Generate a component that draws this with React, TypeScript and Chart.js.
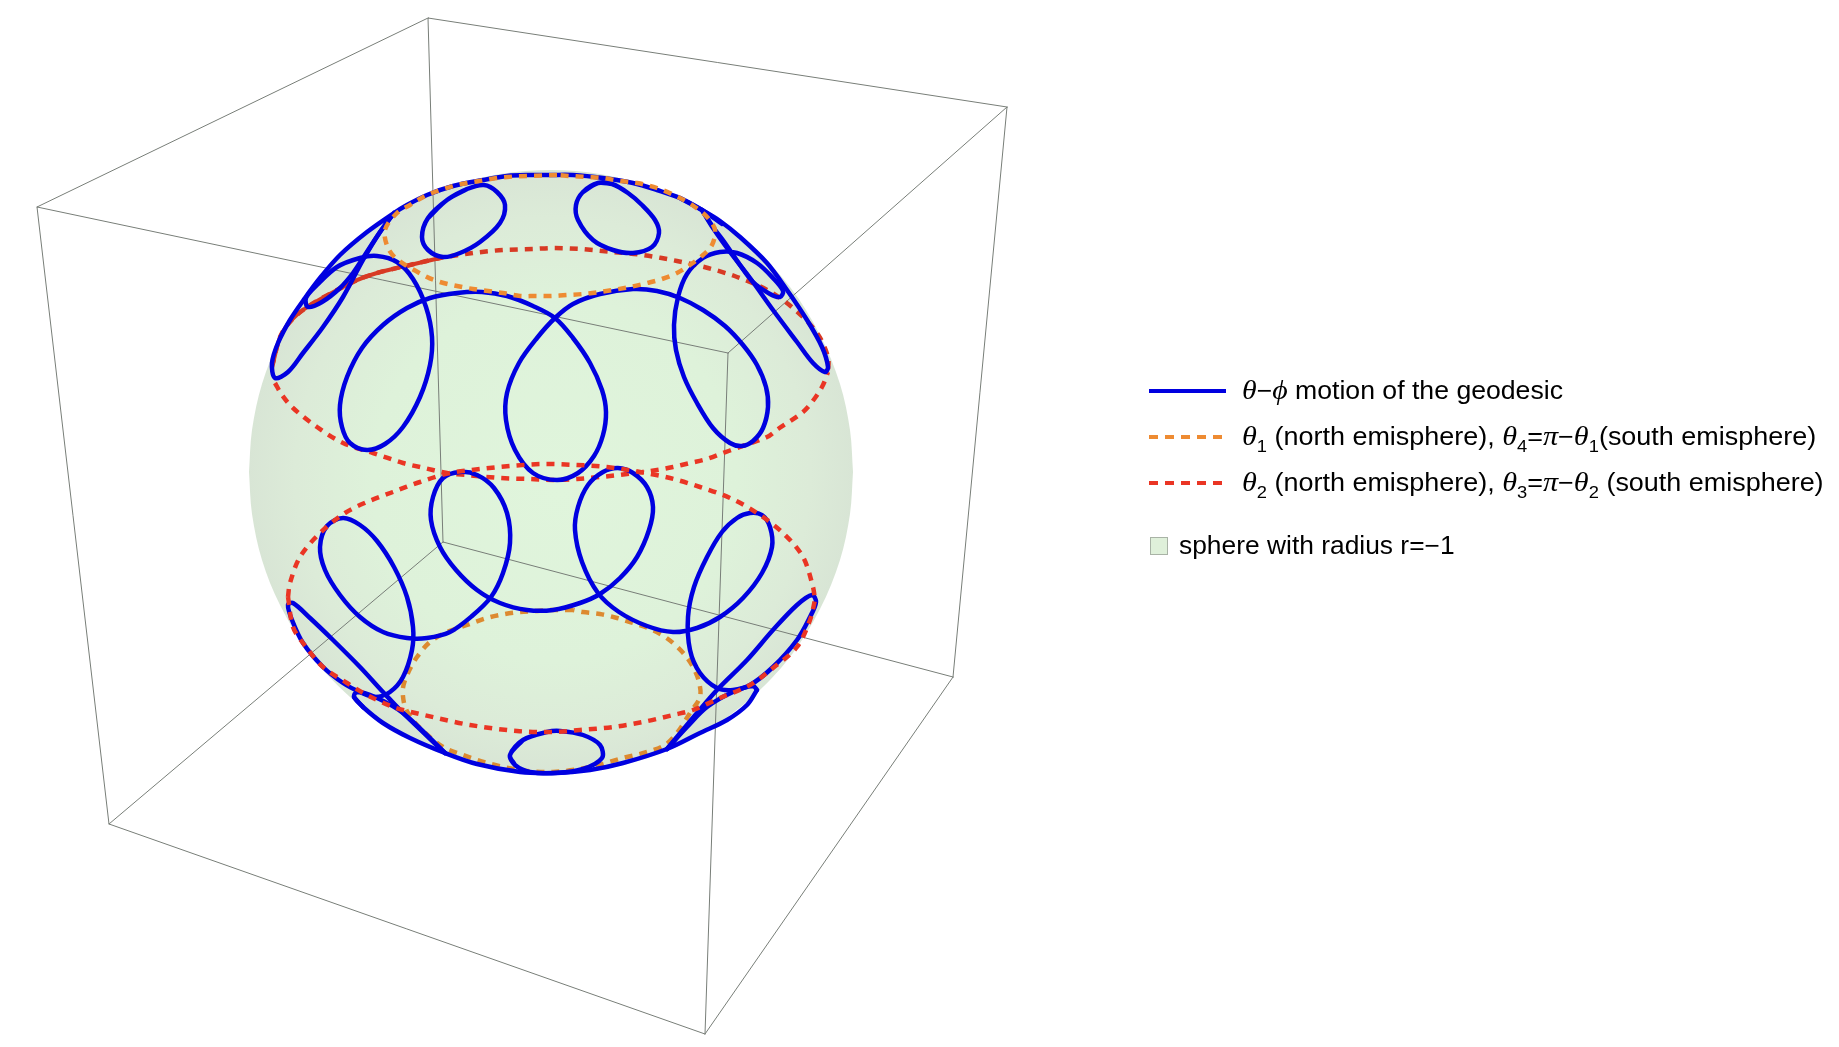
import React, { useEffect, useRef } from "react";
import { Chart, registerables } from "chart.js";

Chart.register(...registerables);

type P = [number, number];

const boxEdges: P[][] = [
  [[428, 18], [1007, 107]], [[1007, 107], [728, 353]], [[728, 353], [37, 207]], [[37, 207], [428, 18]],
  [[443, 542], [953, 677]], [[953, 677], [705, 1034]], [[705, 1034], [109, 824]], [[109, 824], [443, 542]],
  [[428, 18], [443, 542]], [[1007, 107], [953, 677]], [[728, 353], [705, 1034]], [[37, 207], [109, 824]],
];

const sphereUpper: P[] = [[249, 472], [252, 430], [262, 384], [280, 339], [310, 290], [350, 247], [400, 210], [450, 187], [500, 174], [551, 170], [600, 174], [650, 187], [700, 209], [750, 245], [790, 287], [820, 335], [840, 384], [850, 430], [853, 472]];
const sphereLower: P[] = [[249, 472], [252, 514], [262, 560], [280, 605], [310, 654], [350, 697], [400, 734], [450, 757], [500, 770], [551, 774], [600, 770], [650, 757], [700, 735], [750, 699], [790, 657], [820, 609], [840, 560], [850, 514], [853, 472]];

const theta2UpperFront: P[] = [[275, 383], [282, 395], [293, 408], [317, 427], [343, 443], [373, 453], [403, 463], [420, 467], [447, 473], [467, 475], [500, 478], [530, 479], [553, 480], [577, 479], [610, 476], [627, 474], [657, 470], [673, 467], [690, 463], [707, 459], [723, 453], [737, 448], [767, 437], [778, 429], [803, 412], [815, 398], [823, 385], [828, 372]];
const theta2UpperBack: P[] = [[272, 367], [282, 333], [303, 310], [353, 282], [377, 273], [410, 265], [440, 258], [473, 253], [503, 250], [533, 249], [553, 248], [580, 249], [613, 252], [643, 255], [677, 261], [708, 268], [737, 277], [767, 290], [793, 308], [817, 333], [828, 357], [828, 372]];
const theta2UpperSolid: P[] = [[273, 363], [282, 333], [303, 310], [353, 282], [377, 273], [410, 265], [440, 258]];
const theta2LowerBack: P[] = [[288, 597], [290, 583], [300, 557], [320, 533], [345, 513], [367, 502], [393, 492], [420, 482], [450, 473], [480, 469], [510, 466], [543, 464], [577, 465], [607, 467], [640, 472], [670, 478], [700, 487], [730, 498], [757, 513], [783, 533], [803, 557], [813, 587], [815, 600]];
const theta2LowerFront: P[] = [[288, 597], [293, 627], [303, 643], [323, 667], [347, 683], [367, 695], [393, 707], [407, 711], [437, 718], [470, 725], [517, 731], [553, 732], [580, 730], [613, 727], [643, 722], [673, 715], [693, 710], [720, 698], [750, 685], [773, 668], [797, 647], [810, 620], [815, 600]];

const theta1Upper: P[] = [[557, 175], [507, 177], [473, 182], [453, 186], [427, 195], [410, 205], [397, 213], [385, 230], [388, 248], [398, 260], [427, 277], [440, 282], [457, 286], [473, 289], [503, 293], [520, 296], [535, 296], [552, 296], [567, 295], [583, 294], [600, 292], [630, 287], [647, 283], [662, 279], [677, 273], [690, 265], [703, 255], [712, 245], [715, 230], [708, 218], [695, 207], [680, 198], [657, 188], [637, 183], [620, 181], [603, 178], [587, 177], [570, 176], [557, 175]];
const theta4Lower: P[] = [[573, 610], [553, 610], [537, 611], [520, 612], [505, 614], [487, 618], [467, 625], [447, 632], [430, 642], [417, 657], [408, 673], [403, 688], [404, 703], [408, 713], [420, 728], [443, 747], [463, 755], [487, 763], [520, 770], [553, 772], [590, 767], [623, 758], [647, 752], [665, 745], [677, 733], [690, 713], [700, 697], [699, 682], [693, 667], [685, 655], [673, 643], [662, 635], [648, 628], [630, 622], [617, 618], [600, 614], [583, 612], [573, 610]];

const geoTopLimb: P[] = [[722, 224], [702, 210], [680, 198], [657, 190], [633, 183], [603, 178], [573, 175], [550, 175], [530, 175], [507, 176], [483, 180], [453, 186], [427, 195], [407, 205], [394, 213], [367, 232], [340, 255], [320, 278], [305, 298], [290, 320], [278, 343], [272, 363], [275, 378], [288, 372], [303, 353], [323, 327], [343, 297], [363, 260], [380, 232], [394, 213]];
const geoTopLeftLoop: P[] = [[428, 218], [447, 200], [467, 189], [484, 185], [497, 192], [505, 205], [500, 223], [480, 242], [460, 253], [443, 257], [428, 250], [422, 237], [428, 218], [447, 200], [467, 189]];
const geoTopRightLoop: P[] = [[583, 192], [598, 183], [612, 184], [628, 193], [642, 205], [655, 220], [659, 233], [652, 247], [633, 253], [613, 250], [593, 240], [578, 220], [576, 205], [583, 192], [598, 183], [612, 184]];
const geoUpperLeftBig: P[] = [[394, 213], [378, 235], [363, 258], [353, 273], [340, 288], [322, 302], [308, 307], [306, 298], [317, 285], [337, 267], [360, 258], [377, 256], [397, 262], [413, 279], [426, 307], [432, 337], [430, 365], [420, 397], [403, 427], [385, 444], [367, 450], [350, 443], [342, 427], [340, 405], [347, 377], [362, 348], [383, 325], [407, 308], [430, 298], [457, 293], [482, 292], [507, 296], [533, 306], [555, 318], [573, 338], [590, 363], [602, 390], [606, 412], [603, 435], [594, 456], [578, 473], [557, 480], [533, 473], [515, 450], [506, 420], [507, 393], [519, 363], [537, 338], [555, 318], [573, 304], [600, 294], [633, 289], [657, 291], [680, 298], [703, 310], [725, 326], [743, 345], [757, 365], [766, 387], [768, 407], [763, 428], [753, 441], [742, 446], [730, 443], [713, 428], [697, 403], [684, 377], [676, 350], [674, 325], [678, 297], [687, 274], [703, 258], [720, 252], [737, 253], [757, 263], [773, 278], [783, 291], [780, 297], [770, 294], [753, 282], [740, 265], [725, 243], [713, 227], [702, 210]];
const geoUpperRightNarrow: P[] = [[680, 198], [702, 210], [720, 221], [740, 237], [767, 263], [787, 290], [807, 320], [822, 347], [828, 367], [825, 372], [813, 363], [797, 342], [773, 310], [750, 278], [730, 252], [713, 228], [702, 210]];

const geoLowerLong: P[] = [[445, 753], [403, 713], [383, 692], [360, 667], [333, 640], [310, 618], [293, 603], [288, 605], [292, 620], [303, 643], [323, 667], [343, 683], [360, 692], [375, 697], [390, 692], [403, 677], [412, 650], [413, 627], [407, 597], [394, 567], [377, 541], [360, 525], [343, 518], [327, 526], [320, 547], [325, 570], [340, 595], [360, 617], [383, 632], [407, 638], [427, 638], [450, 632], [472, 616], [491, 597], [503, 573], [510, 543], [507, 513], [494, 488], [477, 475], [460, 472], [443, 478], [433, 497], [431, 520], [440, 547], [456, 570], [477, 590], [500, 603], [527, 610], [553, 610], [580, 603], [600, 594], [620, 578], [637, 557], [649, 530], [653, 507], [647, 487], [633, 473], [618, 468], [603, 472], [588, 485], [578, 507], [575, 530], [582, 562], [598, 593], [619, 612], [647, 626], [673, 632], [697, 628], [720, 617], [743, 598], [762, 573], [772, 547], [770, 527], [762, 515], [750, 513], [737, 518], [722, 532], [707, 557], [694, 587], [688, 617], [690, 650], [700, 673], [717, 688], [733, 690], [750, 685], [773, 667], [797, 640], [810, 617], [816, 602], [812, 595], [797, 605], [773, 630], [747, 660], [717, 690], [697, 713], [667, 749]];
const geoLowerLeftUpperSide: P[] = [[445, 753], [403, 713], [375, 697], [357, 692], [354, 697], [363, 707]];
const geoLowerRightUpperSide: P[] = [[667, 749], [687, 727], [707, 707], [733, 692], [753, 686], [757, 690]];
const geoBottomLimb: P[] = [[354, 697], [363, 707], [383, 723], [410, 738], [445, 753], [477, 764], [520, 772], [553, 773], [590, 770], [623, 763], [667, 749], [700, 733], [727, 720], [747, 705], [757, 690]];
const geoBottomLoop: P[] = [[515, 765], [510, 755], [523, 740], [547, 732], [560, 731], [583, 735], [600, 745], [602, 758], [583, 769], [557, 773], [530, 772], [515, 765], [510, 755], [523, 740]];

const BLUE = "#0000e0";
const RED = "#ea3524";
const RED_BACK = "#d83a24";
const ORANGE = "#ee8b32";
const ORANGE_LOW = "#dd8a30";
const GREY = "#787e78";

const geodesicArcs = [geoTopLimb, geoTopLeftLoop, geoTopRightLoop, geoUpperLeftBig, geoUpperRightNarrow, geoLowerLong, geoLowerLeftUpperSide, geoLowerRightUpperSide, geoBottomLimb, geoBottomLoop];

const pts = (a: P[]) => a.map(([x, y]) => ({ x, y }));

function curve(a: P[], color: string, width: number, order: number, dash: number[] = [], tension = 0.33) {
  return {
    data: pts(a), showLine: true, pointRadius: 0, borderColor: color, borderWidth: width, borderDash: dash,
    tension, order, fill: false, clip: false as const, borderCapStyle: dash.length ? "butt" : "round", borderJoinStyle: "round",
  };
}

const MATH: React.CSSProperties = { fontStyle: "italic", fontFamily: "'Liberation Serif', serif", fontSize: 28 };

function Th({ n }: { n?: number }) {
  return <span style={MATH}>θ{n ? <sub style={{ fontStyle: "normal", fontFamily: "'Liberation Sans'", fontSize: 17, lineHeight: 0 }}>{n}</sub> : null}</span>;
}

function Row({ top, left, children, sx }: { top: number; left: number; children: React.ReactNode; sx: number }) {
  return (
    <div style={{ position: "absolute", left, top, whiteSpace: "nowrap", fontFamily: "'Liberation Sans', sans-serif", fontSize: 25, lineHeight: "28px", color: "#000", transform: `scaleX(${sx})`, transformOrigin: "left center" }}>
      {children}
    </div>
  );
}

function Key({ top, color, dash }: { top: number; color: string; dash?: string }) {
  return (
    <svg width={78} height={6} style={{ position: "absolute", left: 1149, top: top - 3 }}>
      <line x1={0} x2={77} y1={3} y2={3} stroke={color} strokeWidth={4} strokeDasharray={dash} />
    </svg>
  );
}

export default function App() {
  const ref = useRef<HTMLCanvasElement>(null);
  useEffect(() => {
    const canvas = ref.current!;
    const g = canvas.getContext("2d")!;
    const grad = g.createRadialGradient(560, 490, 0, 551, 472, 303);
    grad.addColorStop(0, "#e0f5dc");
    grad.addColorStop(0.6, "#def2da");
    grad.addColorStop(0.85, "#dcebd8");
    grad.addColorStop(1, "#d8e5d5");
    const datasets: any[] = [
      curve(theta1Upper, ORANGE, 4.5, 1, [8, 7]),
      curve(theta2LowerFront, RED, 4.5, 1, [8, 7]),
      curve(theta2LowerBack, RED, 4.5, 1, [8, 7]),
      ...geodesicArcs.map((a) => curve(a, BLUE, 4.5, 2)),
      curve(theta4Lower, ORANGE_LOW, 4.5, 3, [8, 7]),
      curve(theta2UpperFront, RED, 4.5, 3, [8, 7]),
      curve(theta2UpperBack, RED_BACK, 4.5, 3, [8, 7]),
      curve(theta2UpperSolid, RED_BACK, 4, 3),
      ...boxEdges.map((e) => curve(e, GREY, 1, 4, [], 0)),
      { ...curve(sphereUpper, "rgba(0,0,0,0)", 0, 5), fill: "+1", backgroundColor: grad },
      { ...curve(sphereLower, "rgba(0,0,0,0)", 0, 5) },
    ];
    const chart = new Chart(canvas, {
      type: "scatter",
      data: { datasets },
      options: {
        animation: false,
        responsive: false,
        events: [],
        layout: { padding: 0 },
        plugins: { legend: { display: false }, tooltip: { enabled: false }, title: { display: false } },
        scales: {
          x: { type: "linear", display: false, min: 0, max: 1839 },
          y: { type: "linear", display: false, min: 0, max: 1047, reverse: true },
        },
      },
    } as any);
    return () => chart.destroy();
  }, []);
  return (
    <div style={{ position: "absolute", left: 0, top: 0, width: 1839, height: 1047, overflow: "hidden", background: "#fff" }}>
      <canvas ref={ref} width={1839} height={1047} style={{ display: "block", width: 1839, height: 1047 }} />
      <Key top={391} color={BLUE} />
      <Key top={437} color={ORANGE} dash="9 7" />
      <Key top={483} color={RED} dash="9 7" />
      <Row top={376} left={1242} sx={1.065}><Th />−<span style={MATH}>ϕ</span> motion of the geodesic</Row>
      <Row top={422} left={1242} sx={1.078}><Th n={1} /> (north emisphere), <Th n={4} />=<span style={MATH}>π</span>−<Th n={1} />(south emisphere)</Row>
      <Row top={468} left={1242} sx={1.078}><Th n={2} /> (north emisphere), <Th n={3} />=<span style={MATH}>π</span>−<Th n={2} /> (south emisphere)</Row>
      <div style={{ position: "absolute", left: 1150, top: 537, width: 18, height: 18, background: "#dff0da", border: "1px solid #a9b3a6", boxSizing: "border-box" }} />
      <Row top={531} left={1179} sx={1.055}>sphere with radius r=−1</Row>
    </div>
  );
}
